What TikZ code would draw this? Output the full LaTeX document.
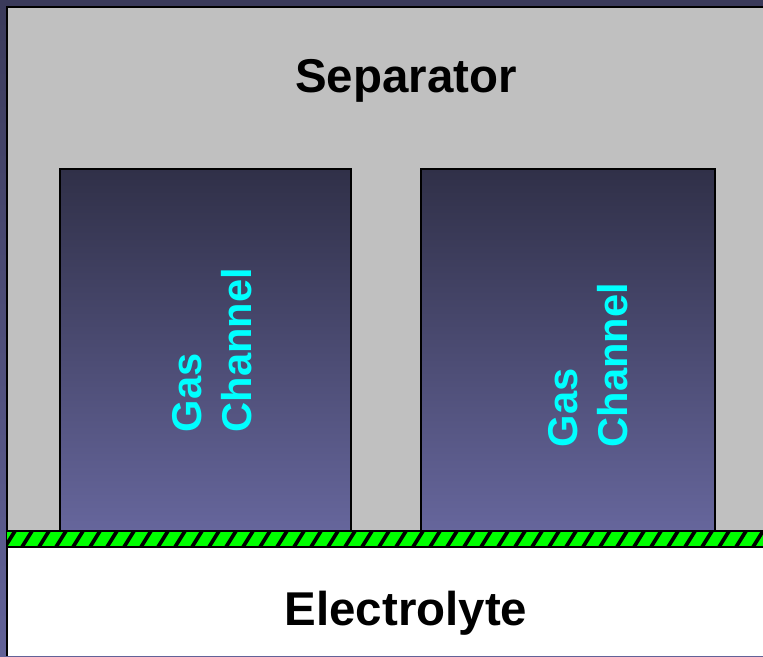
\documentclass[tikz,border=0pt]{standalone}
\usepackage{fontspec}
\setmainfont{Liberation Sans}
\usetikzlibrary{positioning}
\definecolor{frametop}{RGB}{58,58,90}
\definecolor{framebot}{RGB}{98,98,152}
\definecolor{chantop}{RGB}{48,48,72}
\definecolor{chanbot}{RGB}{102,102,156}
\definecolor{sepgray}{RGB}{192,192,192}
\definecolor{gascyan}{RGB}{0,255,255}
\definecolor{layergreen}{RGB}{0,255,0}
\tikzset{
  channel/.style={
    draw=black,
    line width=0.8pt,
    top color=chantop,
    bottom color=chanbot,
  },
  chanlabel/.style={
    rotate=90,
    align=left,
    inner sep=0pt,
    text=gascyan,
    font=\bfseries\fontsize{23.7}{28.5}\selectfont,
  },
  title/.style={
    inner sep=0pt,
    text=black,
    font=\bfseries\fontsize{27}{32}\selectfont,
  },
}
\begin{document}
\begin{tikzpicture}[x=0.02cm,y=0.02cm]
\useasboundingbox (0,0) rectangle (763,656);
% background frame
\shade[top color=frametop,bottom color=framebot] (0,0) rectangle (763,656);
% separator
\fill[sepgray] (7,125) rectangle (763,649);
% electrolyte
\fill[white] (7,0) rectangle (763,109);
\draw[black,line width=1.2pt] (7,0) -- (7,649) -- (763,649);
% gas channels
\path[channel] (60,125) rectangle (351,487);
\path[channel] (421,125) rectangle (715,487);
% hatched interface layer
\fill[layergreen] (7,109) rectangle (763,125);
\begin{scope}
  \clip (7,109) rectangle (763,125);
  \foreach \i in {-12,5,...,780}
    \draw[black,line width=2.1pt] (\i,109) -- (\i+10,125);
\end{scope}
\draw[black,line width=0.8pt] (7,109) -- (763,109);
\draw[black,line width=0.8pt] (7,125) -- (763,125);
% labels
\node[title] (separator) at (406,575) {Separator};
\node[title] (electrolyte) at (406,43) {Electrolyte};
\node[chanlabel] (gasleft) at (212,306) {Gas\\Channel};
\node[chanlabel] (gasright) at (588,291) {Gas\\Channel};
\end{tikzpicture}
\end{document}
